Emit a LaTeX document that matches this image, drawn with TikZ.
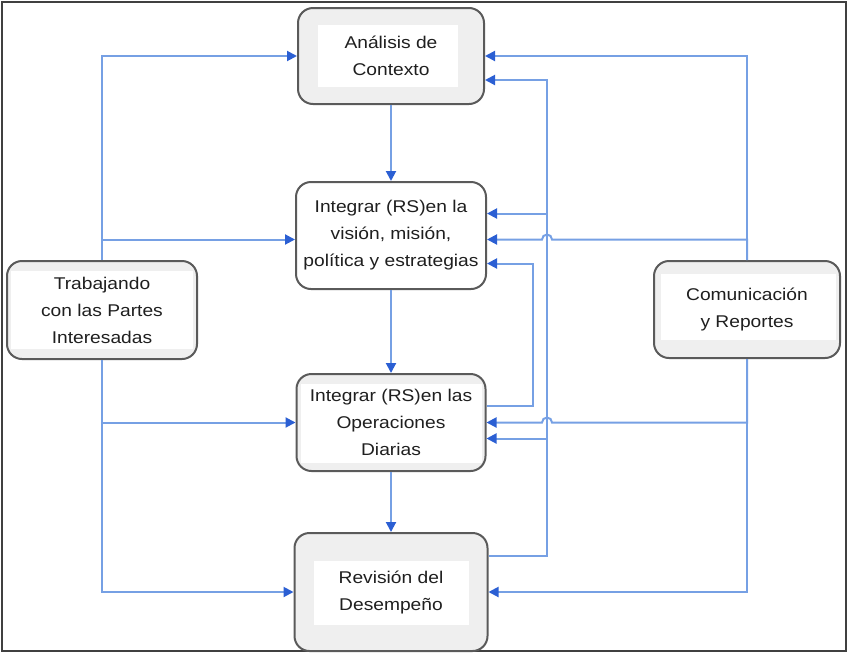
\documentclass[tikz,border=0pt]{standalone}
\usepackage{fontspec}
\setmainfont{Liberation Sans}[FakeStretch=1.13]
\usetikzlibrary{arrows.meta,positioning,calc}
\definecolor{linkblue}{HTML}{76A0E4}
\definecolor{tipblue}{HTML}{2B5FD3}
\definecolor{boxgray}{HTML}{EFEFEF}
\definecolor{boxline}{HTML}{5A5A5A}

\begin{document}
\begin{tikzpicture}[
  x=1pt, y=-1pt,
  box/.style={draw=boxline, line width=2pt, fill=boxgray, rounded corners=15pt,
              align=center, text=black!88, font=\fontsize{17}{27}\selectfont},
  innerwhite/.style n args={4}{path picture={\fill[white, sharp corners]
      ($(path picture bounding box.south west)+(#1pt,#2pt)$) rectangle
      ($(path picture bounding box.north east)+(-#3pt,-#4pt)$);}},
  arr/.style={-{Triangle[length=10pt,width=10pt,color=tipblue]}, line width=2pt, draw=linkblue}
]
  \useasboundingbox (0,0) rectangle (848,654);
  \draw[line width=1.5pt, black!75] (2,2) rectangle (846,651);

  \node[box, minimum width=186pt, minimum height=96pt, innerwhite={20}{17}{26}{17}] (ana) at (391,56) {Análisis de\\Contexto};
  \node[box, fill=white, minimum width=190pt, minimum height=107pt, below=76pt of ana] (vis) {Integrar (RS)en la\\visión, misión,\\política y estrategias};
  \node[box, minimum width=189pt, minimum height=97pt, innerwhite={4}{8}{4}{10}, below=83pt of vis] (ope) {Integrar (RS)en las\\Operaciones\\Diarias};
  \node[box, minimum width=193pt, minimum height=118pt, innerwhite={19}{26}{19}{28}, below=60pt of ope] (rev) {Revisión del\\Desempeño};
  \node[box, minimum width=190pt, minimum height=98pt, innerwhite={4}{10}{4}{10}] (tra) at (102,310) {Trabajando\\con las Partes\\Interesadas};
  \node[box, minimum width=186pt, minimum height=97pt, innerwhite={7}{18}{4}{13}] (com) at (747,309.5) {Comunicación\\y Reportes};

  \coordinate (fb) at ($(ana.east)+(62pt,-24pt)$);
  \coordinate (loop) at ($(vis.east)+(46pt,-28pt)$);
  \coordinate (vhop) at ($(fb |- vis.east)+(0pt,-4pt)$);
  \coordinate (ohop) at (fb |- ope.east);

  \draw[arr] (ana) -- (vis);
  \draw[arr] (vis) -- (ope);
  \draw[arr] (ope) -- (rev);

  \draw[arr] (tra.north) |- (ana.west);
  \draw[arr] (tra.north) |- ($(vis.west)+(0pt,-4pt)$);
  \draw[arr] (tra.south) |- (ope.west);
  \draw[arr] (tra.south) |- (rev.west);

  \draw[arr] ($(rev.east)+(0pt,36pt)$) -| (fb) -- ($(ana.east)+(0pt,-24pt)$);
  \draw[arr] (fb) |- ($(vis.east)+(0pt,22pt)$);
  \draw[arr] (fb) |- ($(ope.east)+(0pt,-16pt)$);
  \draw[arr] ($(ope.east)+(0pt,17pt)$) -| (loop) -- ($(vis.east)+(0pt,-28pt)$);

  \draw[arr] (com.north) |- (ana.east);
  \draw[arr] (com.north) |- ([xshift=5pt]vhop) arc[start angle=0, end angle=180, radius=5pt] -- ($(vis.east)+(0pt,-4pt)$);
  \draw[arr] (com.south) |- ([xshift=5pt]ohop) arc[start angle=0, end angle=180, radius=5pt] -- (ope.east);
  \draw[arr] (com.south) |- (rev.east);
\end{tikzpicture}
\end{document}
